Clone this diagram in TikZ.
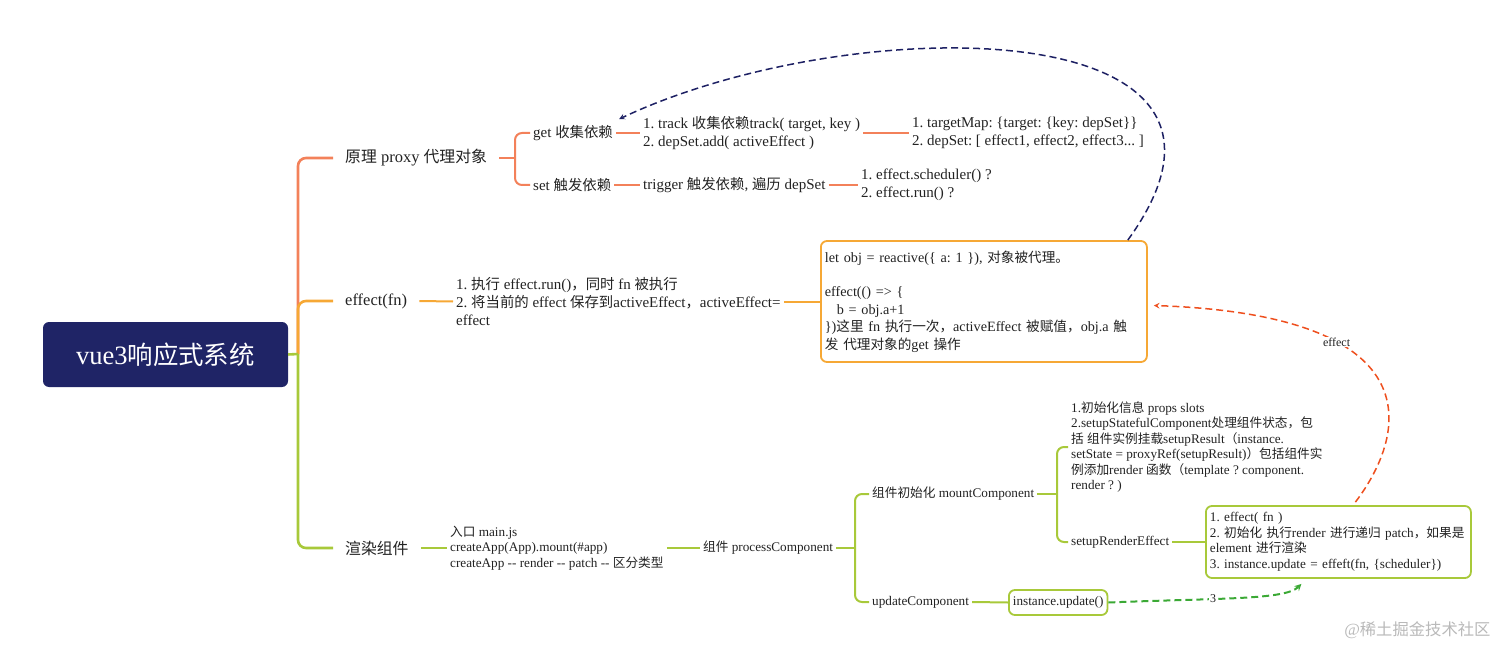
\documentclass[tikz,border=0pt]{standalone}
\usepackage{fontspec}
\setmainfont{Liberation Serif}
\newfontfamily\cjkfont{Noto Sans CJK SC}[Scale=0.96]
\XeTeXinterchartokenstate=1
\newXeTeXintercharclass\cjkclass
\newcount\cjkcode
\cjkcode="3000
\loop\ifnum\cjkcode<"A000
  \XeTeXcharclass\cjkcode=\cjkclass
  \advance\cjkcode by 1
\repeat
\cjkcode="FF00
\loop\ifnum\cjkcode<"FFF0
  \XeTeXcharclass\cjkcode=\cjkclass
  \advance\cjkcode by 1
\repeat
\XeTeXinterchartoks 0 \cjkclass={\cjkfont}
\XeTeXinterchartoks 4095 \cjkclass={\cjkfont}
\XeTeXinterchartoks \cjkclass 0={\rmfamily}
\XeTeXinterchartoks \cjkclass 4095={\rmfamily}
\frenchspacing
\definecolor{navy}{HTML}{1F2466}
\definecolor{coral}{HTML}{F3815A}
\definecolor{amber}{HTML}{F6A835}
\definecolor{lime}{HTML}{A8C93A}
\definecolor{ink}{HTML}{222222}
\definecolor{navydash}{HTML}{1D2063}
\definecolor{reddash}{HTML}{EE4F1E}
\definecolor{greendash}{HTML}{3BA935}

\begin{document}
\begin{tikzpicture}[x=1pt, y=-1pt,
        txt/.style={anchor=west, inner sep=3pt, align=left, text=ink, font=\fontsize{15}{18}\selectfont},
        small/.style={txt, font=\fontsize{13.2}{15.5}\selectfont},
        top/.style={txt, inner xsep=12pt, font=\fontsize{16.5}{20}\selectfont},
        card/.style={draw, rounded corners=6pt, line width=1.8pt, fill=white, anchor=west, align=left, inner xsep=4pt, text=ink},
        link/.style={line width=2.6pt, rounded corners=8pt},
        sublink/.style={line width=2pt, rounded corners=7pt},
        jump/.style={->, >=stealth, dash pattern=on 7pt off 4pt, line width=1.5pt},
        tag/.style={fill=white, inner sep=1pt, text=ink, font=\fontsize{12}{12}\selectfont}
    ]
        \useasboundingbox (0,0) rectangle (1512,660);
        \node[fill=navy, rounded corners=6pt, minimum width=245pt, minimum height=65pt, text=white, font=\fontsize{26.5}{30}\selectfont] (root) at (165.5,354.5) {vue3响应式系统};

        \node[top] (proxy) at (333,158) {原理 proxy 代理对象};
        \node[top] (effectfn) at (333,301) {effect(fn)};
        \node[top] (render) at (333,548) {渲染组件};

        \node[txt] (get) at (530,133) {get 收集依赖};
        \node[txt] (set) at (530,185) {set 触发依赖};
        \node[txt] (track) at (640,133) {1. track 收集依赖track( target, key )\\2. depSet.add( activeEffect )};
        \node[txt] (targetmap) at (909,133) {1. targetMap: \{target: \{key: depSet\}\}\\2. depSet: [ effect1, effect2, effect3... ]};
        \node[txt] (trigger) at (640,185) {trigger 触发依赖, 遍历 depSet};
        \node[txt] (sched) at (858,185) {1. effect.scheduler() ?\\2. effect.run() ?};

        \node[txt] (runinfo) at (453,301.5) {1. 执行 effect.run()，同时 fn 被执行\\2. 将当前的 effect 保存到activeEffect，activeEffect=\\effect};
        \node[card, draw=amber, minimum width=326pt, minimum height=121pt, text width=318pt, font=\fontsize{14.2}{17.5}\selectfont] (objbox) at (820,301.5) {let obj = reactive(\{ a: 1 \}), 对象被代理。\\[17pt]effect(() => \{\\\hspace*{12pt}b = obj.a+1\\\})这里 fn 执行一次，activeEffect 被赋值，obj.a 触\\发 代理对象的get 操作};

        \node[small] (entry) at (447,548) {入口 main.js\\createApp(App).mount(\#app)\\createApp {-}{-} render {-}{-} patch {-}{-} 区分类型};
        \node[small] (process) at (700,548) {组件 processComponent};
        \node[small] (mount) at (869,494) {组件初始化 mountComponent};
        \node[small] (update) at (869,602) {updateComponent};
        \node[small] (mountinfo) at (1068,447) {1.初始化信息 props slots\\2.setupStatefulComponent处理组件状态，包\\括 组件实例挂载setupResult（instance.\\setState = proxyRef(setupResult)）包括组件实\\例添加render 函数（template ? component.\\render ? )};
        \node[small] (setuprender) at (1068,542) {setupRenderEffect};
        \node[card, draw=lime, minimum width=265pt, minimum height=72pt, text width=257pt, font=\fontsize{13.2}{15.5}\selectfont] (renderbox) at (1205,542) {1. effect( fn )\\2. 初始化 执行render 进行递归 patch，如果是\\element 进行渲染\\3. instance.update = effeft(fn, \{scheduler\})};
        \node[card, draw=lime, minimum height=25pt, font=\fontsize{13.2}{15.5}\selectfont] (updatebox) at (1008,602.5) {instance.update()};

        \node[anchor=east, text=gray!55, font=\fontsize{17}{17}\selectfont] (wmark) at (1494,630) {@稀土掘金技术社区};

        \coordinate (hub) at (298,354);
        \coordinate (pfork) at (515,158);
        \coordinate (cfork) at (855,548);
        \coordinate (mfork) at (1057,494);

        \draw[link, coral] (hub) |- (proxy.west);
        \draw[link, amber] (hub) |- (effectfn.west);
        \draw[link, lime] (hub) |- (render.west);
        \draw[link, lime] (root.east) -- (hub);

        \draw[sublink, coral] (proxy.east) -- (pfork);
        \draw[sublink, coral] (pfork) |- (get.west);
        \draw[sublink, coral] (pfork) |- (set.west);
        \draw[sublink, coral] (get.east) -- (track.west);
        \draw[sublink, coral] (track.east) -- (targetmap.west);
        \draw[sublink, coral] (set.east) -- (trigger.west);
        \draw[sublink, coral] (trigger.east) -- (sched.west);

        \draw[sublink, amber] (effectfn.east) -- (runinfo.west);
        \draw[sublink, amber] (runinfo.east) -- (objbox.west);

        \draw[sublink, lime] (render.east) -- (entry.west);
        \draw[sublink, lime] (entry.east) -- (process.west);
        \draw[sublink, lime] (process.east) -- (cfork);
        \draw[sublink, lime] (cfork) |- (mount.west);
        \draw[sublink, lime] (cfork) |- (update.west);
        \draw[sublink, lime] (mount.east) -- (mfork);
        \draw[sublink, lime] (mfork) |- (mountinfo.west);
        \draw[sublink, lime] (mfork) |- (setuprender.west);
        \draw[sublink, lime] (setuprender.east) -- (renderbox.west);
        \draw[sublink, lime] (update.east) -- (updatebox.west);

        \draw[jump, navydash] ([xshift=-20pt]objbox.north east) .. controls (1295,10) and (850,10) .. ([xshift=3pt,yshift=3pt]get.north east);
        \draw[jump, reddash] ([xshift=17pt,yshift=3pt]renderbox.north) .. controls (1410,430) and (1430,315) .. ([xshift=6pt,yshift=-4pt]objbox.east) node[tag, pos=0.68] (efftag) {effect};
        \draw[jump, greendash, line width=2pt] (updatebox.east) .. controls (1220,598) and (1285,600) .. ([xshift=-37pt,yshift=-5pt]renderbox.south) node[tag, pos=0.37] (steptag) {3};
    \end{tikzpicture}
\end{document}
